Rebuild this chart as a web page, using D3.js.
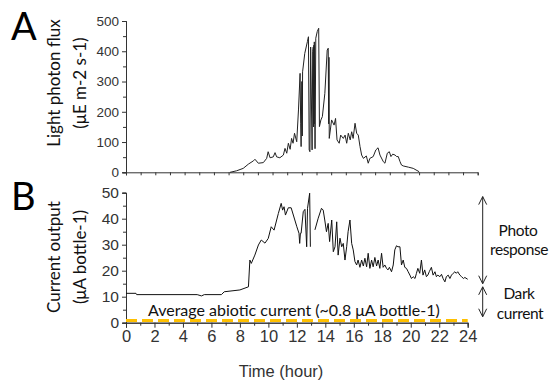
<!DOCTYPE html>
<html>
<head>
<meta charset="utf-8">
<script src="https://d3js.org/d3.v7.min.js"></script>
<style>
  html, body { margin: 0; padding: 0; background: #fff; }
  svg { display: block; }
  .tick text { font-family: "Liberation Sans", Arial, sans-serif; fill: #333; }
  .domain, .tick line { stroke: #333; }
</style>
</head>
<body>
<div id="chart"></div>
<script>
// light photon flux (hour, uE m-2 s-1)
const lightHours = [0, 7.1, 7.55, 8.0, 8.35, 8.7, 8.8, 9.03, 9.37, 9.6, 9.7, 9.83, 10.05, 10.17, 10.28, 10.5, 10.74, 10.85, 10.97, 11.08, 11.2, 11.3, 11.4, 11.5, 11.65, 11.77, 11.88, 11.92, 11.95, 12.0, 12.03, 12.05, 12.2, 12.38, 12.45, 12.5, 12.55, 12.6, 12.7, 12.74, 12.78, 12.8, 12.82, 12.84, 12.85, 12.9, 12.95, 13.05, 13.15, 13.2, 13.3, 13.4, 13.57, 13.73, 13.8, 13.83, 13.85, 13.87, 14.03, 14.2, 14.3, 14.4, 14.55, 14.65, 14.83, 14.95, 15.06, 15.17, 15.3, 15.4, 15.5, 15.63, 15.74, 15.85, 15.97, 16.08, 16.2, 16.4, 16.53, 16.64, 16.87, 17.05, 17.2, 17.33, 17.56, 17.67, 17.83, 17.97, 18.08, 18.2, 18.36, 18.47, 18.58, 18.7, 18.8, 18.92, 19.27, 19.6, 20.0];
const lightValues = [0, 0, 5, 13, 27, 38, 43, 30, 32, 46, 68, 48, 51, 65, 51, 48, 57, 79, 63, 96, 76, 112, 96, 129, 101, 206, 327, 160, 85, 300, 120, 332, 393, 432, 448, 74, 68, 414, 74, 400, 414, 150, 420, 160, 431, 78, 443, 465, 476, 151, 173, 184, 261, 404, 410, 160, 380, 112, 173, 156, 178, 107, 96, 123, 112, 123, 96, 129, 107, 134, 112, 162, 129, 123, 85, 57, 46, 54, 30, 46, 52, 74, 81, 57, 35, 30, 63, 68, 52, 60, 57, 52, 52, 35, 24, 21, 17, 13, 2];

// current output (hour, uA bottle-1); null = gap in record
const currentHours = [0, 0.7, 0.75, 5.0, 5.3, 5.5, 6.7, 6.9, 8.0, 8.6, 8.7, 8.8, 9.05, 9.3, 9.5, 9.76, 9.99, 10.2, 10.4, 10.7, 10.9, 11.0, 11.1, 11.2, 11.4, 11.6, 12.0, 12.15, 12.2, 12.25, 12.3, 12.45, 12.57, 12.69, 12.75, 12.9, 12.95, 12.97, 13.1, 13.27, 13.5, 13.73, 13.85, 13.96, 14.08, 14.2, 14.3, 14.45, 14.56, 14.68, 14.8, 14.9, 15.03, 15.15, 15.26, 15.38, 15.5, 15.6, 15.73, 15.85, 15.96, 16.08, 16.2, 16.3, 16.43, 16.55, 16.67, 16.78, 16.9, 17.01, 17.13, 17.25, 17.36, 17.48, 17.6, 17.71, 17.83, 17.95, 18.06, 18.18, 18.3, 18.4, 18.5, 18.65, 18.77, 18.88, 19.0, 19.1, 19.24, 19.35, 19.47, 19.58, 19.7, 19.82, 19.94, 20.05, 20.17, 20.3, 20.4, 20.5, 20.63, 20.75, 20.86, 20.98, 21.1, 21.2, 21.3, 21.45, 21.57, 21.7, 21.8, 21.9, 22.05, 22.16, 22.27, 22.4, 22.5, 22.63, 22.75, 22.86, 22.98, 23.1, 23.2, 23.3, 23.45, 23.57, 23.7, 23.8, 24.0];
const currentValues = [11.3, 11.3, 10.8, 10.8, 10.3, 10.8, 10.8, 11.9, 12.6, 13.8, 24.1, 22.8, 26, 29.9, 31.8, 30.6, 32.4, 36.9, 35.6, 42, 45.9, 43.3, 44.6, 41.4, 44.2, 44.2, 36.9, 34.4, 30.5, 34.4, 34.4, 42.7, 43.6, 29.2, 44, 49.8, 29.2, null, null, 35.7, 40.2, 44, 43.3, 39.5, 35, 38.2, 31.2, 39.5, 27.3, 29.2, 38.8, 26, 32.5, 29.2, 30.5, 24.1, 29.2, 35, 39.5, 30.5, 28, 23.5, 22.2, 24.1, 21.3, 24.1, 21.8, 24.8, 21.5, 26.7, 20.9, 24.1, 21.5, 25.1, 21.8, 24.1, 20.9, 26.7, 21.3, 22.2, 20.9, 20.3, 21.3, 19.6, 22.2, 28, 29.6, 29.2, 29.2, 22.2, 24.1, 21.3, 20.9, 19.6, 18.3, 17, 17.7, 17, 19, 20.9, 19, 24.1, 18.3, 20.3, 17.7, 18.3, 19.6, 21.3, 18.3, 19.6, 17.7, 18.3, 17.7, 18.6, 17, 15.7, 17.7, 18.3, 17, 18.3, 19, 19.6, 19, 19.6, 18.3, 17.7, 17, 17.4, 16.7];

const abioticLevel = 0.8;
const hourTicks = d3.range(0, 25, 2);
const lightTicks = [0, 100, 200, 300, 400, 500];
const currentTicks = [0, 10, 20, 30, 40, 50];

const width = 550, height = 381;
const svg = d3.select('#chart').append('svg')
  .attr('width', width)
  .attr('height', height);

const titleFont = 'Lato, "Open Sans", sans-serif';

// ---------- panel A ----------
const xA = d3.scaleLinear().domain([0, 24]).range([126, 477.7]);
const yA = d3.scaleLinear().domain([0, 500]).range([172.3, 21]);

svg.append('g')
  .attr('transform', `translate(0,${yA(0)})`)
  .call(d3.axisBottom(xA).tickValues(d3.range(0, 25, 1)).tickSize(3).tickFormat(''));

svg.append('g')
  .attr('transform', `translate(${xA(0)},0)`)
  .call(d3.axisLeft(yA).tickValues(d3.range(50, 500, 100)).tickSize(3).tickFormat(''));
svg.append('g')
  .attr('transform', `translate(${xA(0)},0)`)
  .call(d3.axisLeft(yA).tickValues(lightTicks).tickSize(4).tickPadding(3))
  .selectAll('text').style('font-size', '13.5px');

const lightLine = d3.line()
  .x(d => xA(d[0]))
  .y(d => yA(d[1]));

svg.append('path')
  .datum(d3.zip(lightHours, lightValues).filter(d => d[0] >= 7))
  .attr('d', lightLine)
  .style('fill', 'none')
  .style('stroke', '#222')
  .style('stroke-width', 1);

// ---------- panel B ----------
const xB = d3.scaleLinear().domain([0, 24]).range([126, 467.7]);
const yB = d3.scaleLinear().domain([0, 50]).range([322.7, 192.7]);

svg.append('g')
  .attr('transform', `translate(0,${yB(0)})`)
  .call(d3.axisBottom(xB).tickValues(d3.range(1, 24, 2)).tickSize(3).tickFormat(''));
svg.append('g')
  .attr('transform', `translate(0,${yB(0)})`)
  .call(d3.axisBottom(xB).tickValues(hourTicks).tickSize(5).tickPadding(3))
  .selectAll('text').style('font-size', '16.5px');

svg.append('g')
  .attr('transform', `translate(${xB(0)},0)`)
  .call(d3.axisLeft(yB).tickValues(d3.range(5, 50, 10)).tickSize(3).tickFormat(''));
svg.append('g')
  .attr('transform', `translate(${xB(0)},0)`)
  .call(d3.axisLeft(yB).tickValues(currentTicks).tickSize(4).tickPadding(3))
  .selectAll('text').style('font-size', '15.5px');

const currentLine = d3.line()
  .defined(d => d[1] !== null)
  .x(d => xB(d[0]))
  .y(d => yB(d[1]));

svg.append('path')
  .datum(d3.zip(currentHours, currentValues))
  .attr('d', currentLine)
  .style('fill', 'none')
  .style('stroke', '#111')
  .style('stroke-width', 1);

// abiotic current
svg.append('line')
  .attr('x1', xB(0))
  .attr('x2', xB(24))
  .attr('y1', yB(abioticLevel))
  .attr('y2', yB(abioticLevel))
  .style('stroke', '#ffc000')
  .style('stroke-width', 3)
  .style('stroke-dasharray', '11,5');

svg.append('text')
  .attr('x', 148)
  .attr('y', 316)
  .style('font-family', titleFont)
  .style('font-size', '16px')
  .style('fill', '#111')
  .text('Average abiotic current (~0.8 μA bottle-1)');

// arrows on the right
function doubleArrow(x, top, bottom) {
  const g = svg.append('g').style('stroke', '#222').style('fill', 'none').style('stroke-width', 1);
  g.append('line').attr('x1', x).attr('x2', x).attr('y1', top).attr('y2', bottom);
  g.append('polyline').attr('points', `${x - 4},${top + 8} ${x},${top} ${x + 4},${top + 8}`);
  g.append('polyline').attr('points', `${x - 4},${bottom - 8} ${x},${bottom} ${x + 4},${bottom - 8}`);
}
doubleArrow(482.7, yB(48.5), yB(15));
doubleArrow(482.7, yB(13.8), yB(2.3));

const side = [
  { t: 'Photo', y: 236, x: 518 },
  { t: 'response', y: 255, x: 519 },
  { t: 'Dark', y: 299, x: 519 },
  { t: 'current', y: 319, x: 520 }
];
svg.selectAll('.side')
  .data(side)
  .enter()
  .append('text')
  .attr('class', 'side')
  .attr('x', d => d.x)
  .attr('y', d => d.y)
  .attr('text-anchor', 'middle')
  .style('font-family', titleFont)
  .style('font-size', '15.5px')
  .style('letter-spacing', '-0.4px')
  .style('fill', '#111')
  .text(d => d.t);

// ---------- titles ----------
function vTitle(lines, cy) {
  lines.forEach((t, i) => {
    svg.append('text')
      .attr('transform', `translate(${60 + i * 26},${cy}) rotate(-90)`)
      .attr('text-anchor', 'middle')
      .style('font-family', titleFont)
      .style('font-size', '17px')
      .style('fill', '#111')
      .text(t);
  });
}
vTitle(['Light photon flux', '(μE m-2 s-1)'], 83);
vTitle(['Current output', '(μA bottle-1)'], 257);

svg.append('text')
  .attr('x', 281)
  .attr('y', 377)
  .attr('text-anchor', 'middle')
  .style('font-family', '"Liberation Sans", Arial, sans-serif')
  .style('font-size', '16.5px')
  .style('fill', '#333')
  .text('Time (hour)');

[{ t: 'A', y: 40 }, { t: 'B', y: 210 }].forEach(d => {
  svg.append('text')
    .attr('x', 11)
    .attr('y', d.y)
    .style('font-family', titleFont)
    .style('font-size', '38px')
    .style('fill', '#000')
    .text(d.t);
});
</script>
</body>
</html>
